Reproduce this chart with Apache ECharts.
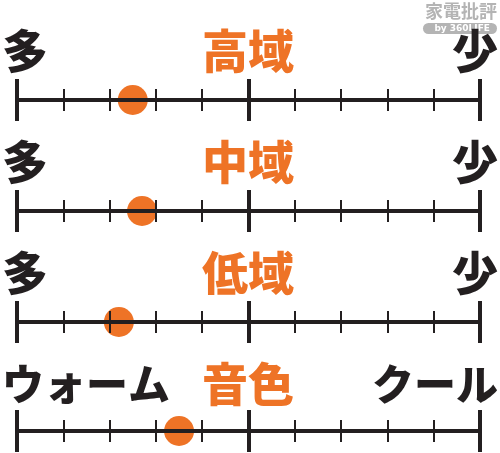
<!DOCTYPE html>
<html>
<head>
<meta charset="utf-8">
<script src="https://cdn.jsdelivr.net/npm/echarts@6/dist/echarts.min.js"></script>
<style>
  html, body { margin: 0; padding: 0; background: #fff; }
  #chart { width: 500px; height: 453px; }
</style>
</head>
<body>
<div id="chart"></div>
<script>
// data
const rowTitles = ['高域', '中域', '低域', '音色'];
const leftLabels = ['多', '多', '多', 'ウォーム'];
const rightLabels = ['少', '少', '少', 'クール'];
const dotValues = [2.5, 2.7, 2.2, 3.5];
const scaleMin = 0;
const scaleMax = 10;

// layout
const axisY = [100, 211, 322, 431];
const glyphTop = [28, 139, 250, 361];
const orange = '#ee7326';
const ink = '#231f20';
const font = '"Noto Sans CJK JP", sans-serif';

var chart = echarts.init(document.getElementById('chart'));

var grids = [], xAxes = [], yAxes = [], series = [], titles = [];

rowTitles.forEach(function (name, i) {
    var kana = leftLabels[i].length > 1;
    var sideSize = kana ? 42 : 46;
    var sideTop = kana ? glyphTop[i] + 2 : glyphTop[i];

    // small ticks grid (axis line on zero)
    grids.push({ left: 17, right: 20, top: axisY[i] - 11, height: 22 });
    // tall ticks grid (ends + middle)
    grids.push({ left: 17, right: 20, top: axisY[i] - 21, height: 42 });

    xAxes.push({
        gridIndex: i * 2, type: 'value', min: scaleMin, max: scaleMax, interval: 1, z: 5,
        axisLine: { show: true, onZero: true, lineStyle: { color: ink, width: 4 } },
        axisTick: { show: false }, axisLabel: { show: false },
        splitLine: { show: true, lineStyle: { color: ink, width: 2 } }
    });
    xAxes.push({
        gridIndex: i * 2 + 1, type: 'value', min: scaleMin, max: scaleMax, interval: 5, z: 5,
        axisLine: { show: false }, axisTick: { show: false }, axisLabel: { show: false },
        splitLine: { show: true, lineStyle: { color: ink, width: 4 } }
    });
    yAxes.push({ gridIndex: i * 2, type: 'value', min: -1, max: 1, show: false });
    yAxes.push({ gridIndex: i * 2 + 1, type: 'value', min: -1, max: 1, show: false });

    series.push({
        type: 'scatter', xAxisIndex: i * 2, yAxisIndex: i * 2, z: 1,
        symbolSize: 30, itemStyle: { color: orange, opacity: 1 },
        data: [[dotValues[i], 0]], silent: true
    });

    titles.push({
        text: leftLabels[i], left: 2, top: sideTop, padding: 0,
        textStyle: { color: ink, fontSize: sideSize, fontWeight: 900, fontFamily: font }
    });
    titles.push({
        text: name, left: 202, top: glyphTop[i], padding: 0,
        textStyle: { color: orange, fontSize: 46, fontWeight: 900, fontFamily: font }
    });
    titles.push({
        text: rightLabels[i], right: 2, top: sideTop, padding: 0,
        textStyle: { color: ink, fontSize: sideSize, fontWeight: 900, fontFamily: font }
    });
});

var option = {
    backgroundColor: '#fff',
    animation: false,
    title: titles,
    grid: grids,
    xAxis: xAxes,
    yAxis: yAxes,
    series: series,
    graphic: [
        { type: 'text', right: 3, top: 2,
          style: { text: '家電批評', fill: '#b4b4b4', font: 'bold 18px ' + font } },
        { type: 'rect', right: 3, top: 23,
          shape: { width: 74, height: 11, r: 5.5 }, style: { fill: '#b4b4b4' } },
        { type: 'text', right: 10, top: 24,
          style: { text: 'by 360LIFE', fill: '#fff', font: 'bold 9px "DejaVu Sans", sans-serif' } }
    ]
};

if (option && typeof option === 'object') {
    chart.setOption(option);
}

window.addEventListener('resize', chart.resize);
</script>
</body>
</html>
